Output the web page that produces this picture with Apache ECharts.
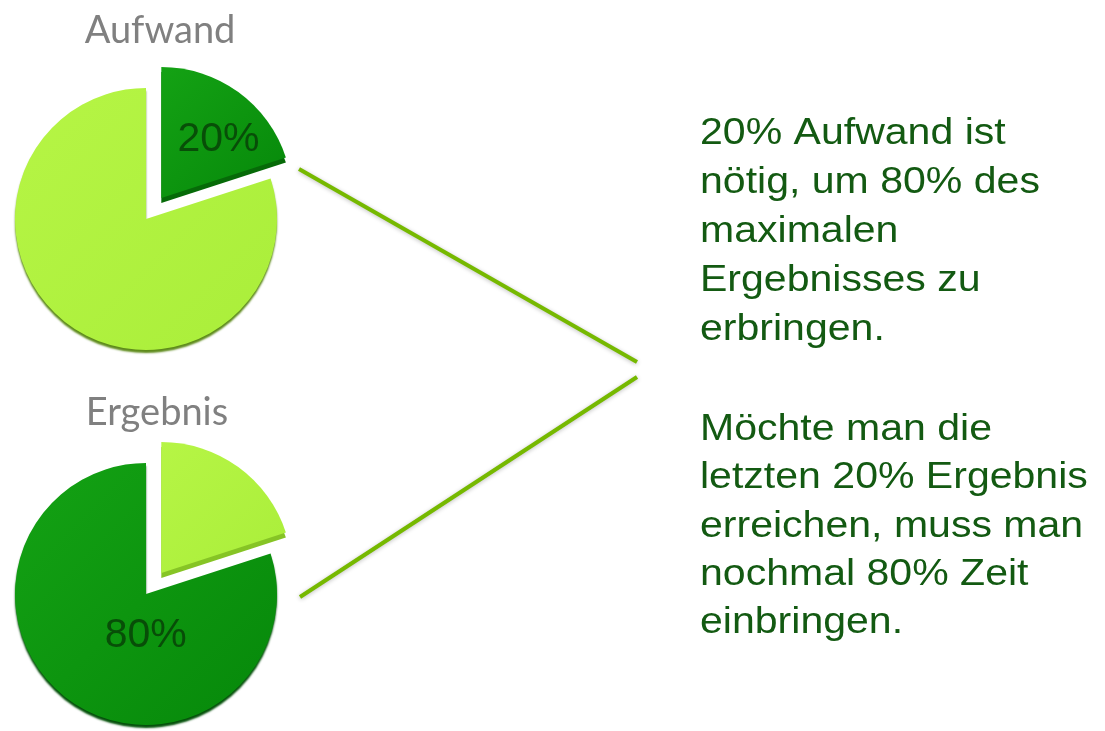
<!DOCTYPE html>
<html>
<head>
<meta charset="utf-8">
<script src="https://cdn.jsdelivr.net/npm/echarts@6/dist/echarts.min.js"></script>
<style>
html,body{margin:0;padding:0;background:#fff;}
#chart{width:1105px;height:731px;}
</style>
</head>
<body>
<div id="chart"></div>
<script>
// ---- data ----
const pieTitles = ['Aufwand', 'Ergebnis'];
const sliceNames = ['Anteil 20%', 'Anteil 80%'];
const aufwandValues = [20, 80];
const ergebnisValues = [20, 80];
const paragraph1 = ['20% Aufwand ist', 'nötig, um 80% des', 'maximalen', 'Ergebnisses zu', 'erbringen.'];
const paragraph2 = ['Möchte man die', 'letzten 20% Ergebnis', 'erreichen, muss man', 'nochmal 80% Zeit', 'einbringen.'];

// ---- styles ----
const DARK = new echarts.graphic.LinearGradient(0, 0, 1, 1, [
  {offset: 0, color: '#14a214'}, {offset: 1, color: '#06880a'}]);
const LIGHT = new echarts.graphic.LinearGradient(0, 0, 1, 1, [
  {offset: 0, color: '#b6f545'}, {offset: 1, color: '#aaee3a'}]);
const DARK_EDGE = '#066a08';
const LIGHT_EDGE = '#86c425';
const labelColor = 'rgba(8,70,8,0.9)';

function item(name, value, fill, edge, selected, showLabel, labelOffset) {
  const st = {color: fill, shadowColor: edge, shadowOffsetY: selected ? 5 : 3, shadowBlur: selected ? 0 : 2};
  return {
    name: name, value: value, selected: selected,
    itemStyle: st,
    label: {show: showLabel, offset: labelOffset},
    select: {itemStyle: st, label: {show: showLabel, offset: labelOffset}}
  };
}

function pieSeries(center, data) {
  return {
    type: 'pie',
    center: center,
    radius: 131,
    startAngle: 90,
    clockwise: true,
    selectedMode: 'single',
    selectedOffset: 26,
    silent: true,
    animation: false,
    label: {
      position: 'inside',
      formatter: p => p.value + '%',
      fontFamily: '"Liberation Sans", Arial, sans-serif',
      fontSize: 41,
      color: labelColor
    },
    labelLine: {show: false},
    emphasis: {disabled: true},
    data: data
  };
}

const chart = echarts.init(document.getElementById('chart'), null, {renderer: 'canvas'});

const textStyleBase = {
  fontFamily: '"Liberation Sans", Arial, sans-serif',
  fontSize: 36,
  fill: '#135a12',
  lineHeight: 49
};

chart.setOption({
  backgroundColor: '#ffffff',
  animation: false,
  series: [
    pieSeries([146, 219], [
      item(sliceNames[0], aufwandValues[0], DARK, DARK_EDGE, true, true, [17, -3]),
      item(sliceNames[1], aufwandValues[1], LIGHT, '#5d8a1a', false, false, [0, 0])
    ]),
    pieSeries([146, 594], [
      item(sliceNames[0], ergebnisValues[0], LIGHT, LIGHT_EDGE, true, false, [0, 0]),
      item(sliceNames[1], ergebnisValues[1], DARK, '#04500a', false, true, [40, -14])
    ])
  ],
  graphic: [
    {type: 'text', x: 160, y: 31, style: {text: pieTitles[0], fontFamily: 'Lato, "Open Sans", sans-serif', fontSize: 38, fill: '#808080', align: 'center', verticalAlign: 'middle'}},
    {type: 'text', x: 157, y: 413, style: {text: pieTitles[1], fontFamily: 'Lato, "Open Sans", sans-serif', fontSize: 38, fill: '#808080', align: 'center', verticalAlign: 'middle'}},
    {type: 'line', shape: {x1: 299, y1: 169, x2: 637, y2: 362}, style: {stroke: '#76b900', lineWidth: 4, shadowBlur: 4, shadowColor: 'rgba(0,0,0,0.25)', shadowOffsetY: 1}},
    {type: 'line', shape: {x1: 637, y1: 377, x2: 300, y2: 597}, style: {stroke: '#76b900', lineWidth: 4, shadowBlur: 4, shadowColor: 'rgba(0,0,0,0.25)', shadowOffsetY: 1}},
    {type: 'text', x: 700, y: 110, scaleX: 1.14, style: Object.assign({text: paragraph1.join('\n'), align: 'left', verticalAlign: 'top'}, textStyleBase)},
    {type: 'text', x: 700, y: 406, scaleX: 1.14, style: Object.assign({text: paragraph2.join('\n'), align: 'left', verticalAlign: 'top'}, textStyleBase, {lineHeight: 48.3})}
  ]
});
</script>
</body>
</html>
